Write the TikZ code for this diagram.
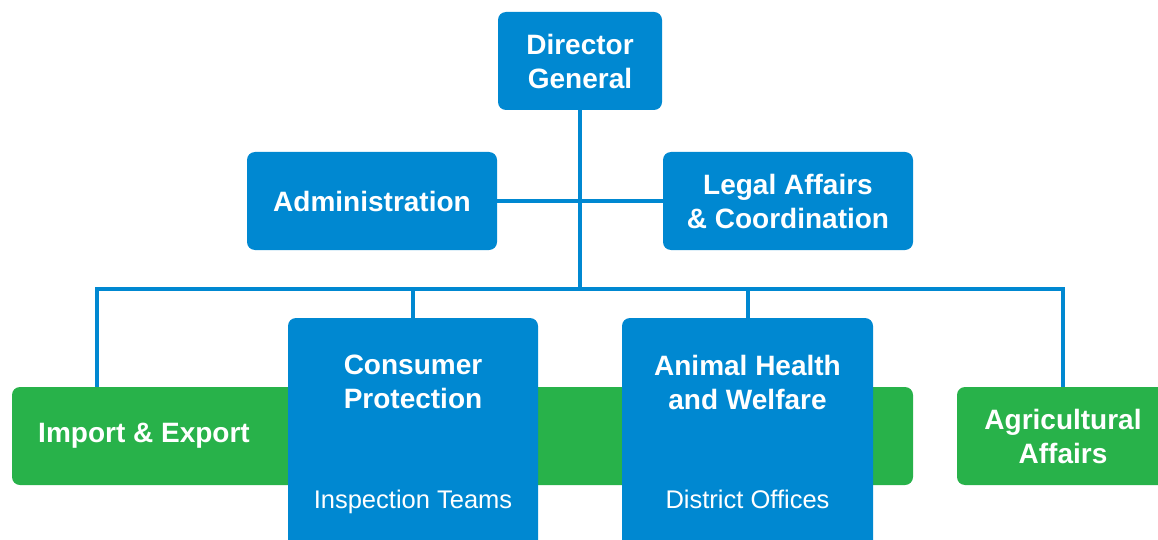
\documentclass[tikz,border=0pt]{standalone}
\usepackage{fontspec}
\setmainfont{Liberation Sans}
\definecolor{bblue}{RGB}{0,136,209}
\definecolor{bgreen}{RGB}{40,178,74}
\begin{document}
\begin{tikzpicture}[x=1pt,y=-1pt,
  box/.style={rectangle, rounded corners=8pt, fill=bblue, inner sep=0pt, text=white, align=center,
    font=\bfseries\fontsize{28}{34}\selectfont},
  gbox/.style={box, fill=bgreen},
  lbl/.style={text=white, align=center, inner sep=0pt, font=\bfseries\fontsize{28}{34}\selectfont},
  sub/.style={text=white, align=center, inner sep=0pt, anchor=base, font=\fontsize{25.5}{30}\selectfont},
  link/.style={draw=bblue, line width=4pt}]
\useasboundingbox (0,0) rectangle (1158,540);
\clip (0,0) rectangle (1158,540);
% boxes
\node[box, minimum width=164pt, minimum height=98pt] (dg) at (580,61) {Director\\General};
\node[box, minimum width=250pt, minimum height=98pt] (adm) at (372,201) {Administration};
\node[box, minimum width=250pt, minimum height=98pt] (leg) at (788,201) {Legal Affairs\\\& Coordination};
\node[gbox, minimum width=901pt, minimum height=98pt] (ie) at (462.5,436) {};
\node[lbl] (iet) at (144,436) {Import \& Export};
\node[gbox, minimum width=212pt, minimum height=98pt] (agr) at (1063,436) {Agricultural\\Affairs};
\node[box, minimum width=250pt, minimum height=250pt] (cp) at (413,443) {};
\node[lbl] (cpt) at (413,382) {Consumer\\Protection};
\node[sub] (cps) at (413,508) {Inspection Teams};
\node[box, minimum width=251pt, minimum height=250pt] (ah) at (747.5,443) {};
\node[lbl] (aht) at (747.5,382) {Animal Health\\and Welfare};
\node[sub] (ahs) at (747.5,508) {District Offices};
% connectors
\coordinate (busc) at (580,289);
\coordinate (busl) at (97,289);
\coordinate (busr) at (1063,289);
\draw[link] (dg.south) -- (busc);
\draw[link] (adm.east) -- (leg.west);
\draw[link] (ie.north -| busl) -- (busl) -- (busr) -- (busr |- agr.north);
\draw[link] (cp.north) -- (cp.north |- busc);
\draw[link] (ah.north) -- (ah.north |- busc);
\end{tikzpicture}
\end{document}
